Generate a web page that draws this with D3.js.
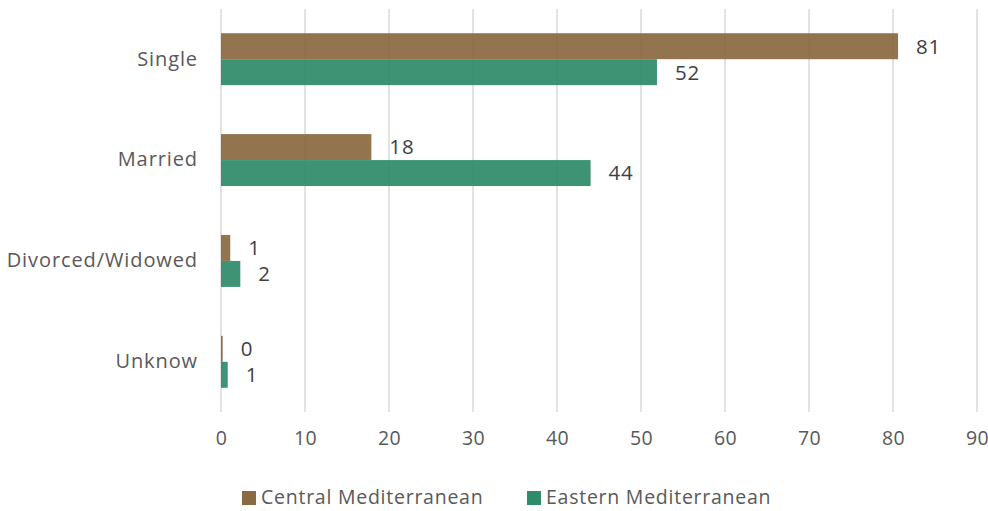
<!DOCTYPE html>
<html><head><meta charset="utf-8">
<script src="https://cdn.jsdelivr.net/npm/d3@7"></script>
<style>body{margin:0;background:#fff;}svg{display:block;font-family:"Open Sans",sans-serif;}</style>
</head><body><svg id="c" width="988" height="511"></svg>
<script>
const categories = ["Single", "Married", "Divorced/Widowed", "Unknow"];
const seriesNames = ["Central Mediterranean", "Eastern Mediterranean"];
const central = [80.6, 17.9, 1.1, 0.2];
const eastern = [51.9, 44.0, 2.3, 0.8];
const xTicks = [0, 10, 20, 30, 40, 50, 60, 70, 80, 90];
const colors = ["#8a6a42", "#2f8b6a"];
const FONT = "'Open Sans',sans-serif";

const svg = d3.select("#c");
const m = {left: 221, right: 977, top: 9, bottom: 412};
const x = d3.scaleLinear().domain([0, 90]).range([m.left, m.right]);
const y = d3.scaleBand().domain(categories).range([m.top, m.bottom]).paddingInner(0.485).paddingOuter(0.24);
const ys = d3.scaleBand().domain(seriesNames).range([0, y.bandwidth()]);

svg.append("g").selectAll("line").data(xTicks).join("line")
  .attr("x1", d => x(d)).attr("x2", d => x(d))
  .attr("y1", m.top).attr("y2", m.bottom)
  .attr("stroke", "#d9d9d9").attr("stroke-width", 1.5);

const data = [central, eastern];
data.forEach((vals, si) => {
  const g = svg.append("g");
  g.selectAll("rect").data(categories).join("rect")
    .attr("x", x(0))
    .attr("y", c => y(c) + ys(seriesNames[si]))
    .attr("width", (c, i) => x(vals[i]) - x(0))
    .attr("height", ys.bandwidth())
    .attr("fill", colors[si]).attr("fill-opacity", 0.93);
  g.selectAll("text").data(categories).join("text")
    .attr("x", (c, i) => x(vals[i]) + 18)
    .attr("y", c => y(c) + ys(seriesNames[si]) + ys.bandwidth() / 2)
    .attr("dy", "0.36em")
    .attr("font-size", 20.5).attr("letter-spacing", "0.8px").attr("fill", "#404040")
    .text((c, i) => d3.format(".0f")(vals[i]));
});

const xa = svg.append("g").attr("transform", `translate(0,${m.bottom})`)
  .call(d3.axisBottom(x).tickValues(xTicks).tickSize(0).tickPadding(19));
xa.select(".domain").remove();
xa.selectAll("text").attr("font-size", 19.5).attr("letter-spacing", "0.3px").attr("fill", "#595959").attr("font-family", FONT);

const ya = svg.append("g").attr("transform", `translate(${m.left},0)`)
  .call(d3.axisLeft(y).tickSize(0).tickPadding(23));
ya.select(".domain").remove();
ya.selectAll("text").attr("font-size", 20).attr("letter-spacing", "0.9px").attr("fill", "#595959").attr("font-family", FONT);

const legX = [242, 527];
const lg = svg.append("g");
seriesNames.forEach((s, i) => {
  lg.append("rect").attr("x", legX[i]).attr("y", 491).attr("width", 14).attr("height", 14).attr("fill", colors[i]);
  lg.append("text").attr("x", legX[i] + 19).attr("y", 497).attr("dy", "0.36em")
    .attr("font-size", 19.5).attr("letter-spacing", "0.75px").attr("fill", "#595959").text(s);
});
</script></body></html>
